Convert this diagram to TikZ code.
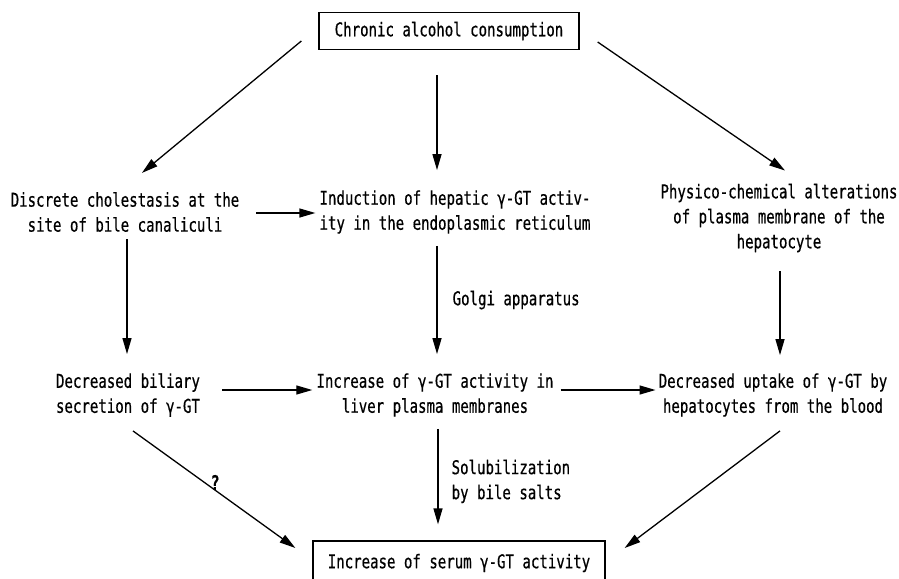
\documentclass[tikz,border=0pt]{standalone}
\usepackage{fontspec}
\setmainfont[FakeStretch=0.74,FakeBold=0.5]{DejaVu Sans Mono}
\usetikzlibrary{arrows.meta,calc,positioning}

\tikzset{
  testo/.style={font=\fontsize{19}{25}\selectfont, inner sep=0pt, align=center},
  riquadro/.style={testo, draw, line width=1.3pt, minimum height=37pt},
  freccia/.style={-{Triangle[length=16pt,width=9pt]}, line width=1.3pt}
}

\begin{document}
\begin{tikzpicture}[x=1pt,y=-1pt]
            \useasboundingbox (0,0) rectangle (899,578);

            %riquadro in alto e in basso
            \node[riquadro, minimum width=260pt] (alcol) at (449,31) {Chronic alcohol consumption};
            \node[riquadro, minimum width=292pt, minimum height=44pt] (siero) at (459,563) {Increase of serum γ-GT activity};

            %prima riga
            \node[testo] (colestasi) at (125,212) {Discrete cholestasis at the\\site of bile canaliculi};
            \node[testo, align=left] (induzione) at (455,212) {Induction of hepatic γ-GT activ-\\ity in the endoplasmic reticulum};
            \node[testo] (membrana) at (779,218) {Physico-chemical alterations\\of plasma membrane of the\\hepatocyte};

            %seconda riga
            \node[testo] (biliare) at (128,395) {Decreased biliary\\secretion of γ-GT};
            \node[testo] (attivita) at (435,395) {Increase of γ-GT activity in\\liver plasma membranes};
            \node[testo] (captazione) at (773,395) {Decreased uptake of γ-GT by\\hepatocytes from the blood};

            %frecce dal riquadro in alto
            \draw[freccia] ($(alcol.west)+(-17,10)$) -- ($(colestasi.north)+(17,-19)$);
            \draw[freccia] ($(alcol.south)+(-12,25)$) -- ($(induzione.north)+(-18,-20)$);
            \draw[freccia] ($(alcol.east)+(18,11)$) -- ($(membrana.north)+(6,-13)$);

            %frecce tra le righe
            \draw[freccia] ($(colestasi.east)+(17,1)$) -- ($(induzione.west)+(-4,1)$);
            \draw[freccia] ($(colestasi.south)+(2,7)$) -- ($(biliare.north)+(-1,-19)$);
            \draw[freccia] ($(induzione.south)+(-18,12)$) -- ($(attivita.north)+(2,-19)$)
                node[testo, midway, right=15pt] (golgi) {Golgi apparatus};
            \draw[freccia] ($(membrana.south)+(1,19)$) -- ($(captazione.north)+(7,-18)$);
            \draw[freccia] ($(biliare.east)+(22,-5)$) -- ($(attivita.west)+(-4,-5)$);
            \draw[freccia] ($(attivita.east)+(7,-5)$) -- ($(captazione.west)+(-3,-5)$);

            %frecce verso il riquadro in basso
            \draw[freccia] ($(biliare.south)+(5,14)$) -- ($(siero.west)+(-17,-15)$)
                node[testo, midway, above=-1pt, xshift=1pt, font=\fontsize{20}{25}\selectfont\bfseries] (dubbio) {?};
            \draw[freccia] ($(attivita.south)+(3,12)$) -- ($(siero.north)+(-21,-16)$)
                node[testo, pos=0.55, right=13pt, align=left] (sali) {Solubilization\\by bile salts};
            \draw[freccia] ($(captazione.south)+(7,14)$) -- ($(siero.east)+(19,-15)$);
        \end{tikzpicture}
\end{document}
